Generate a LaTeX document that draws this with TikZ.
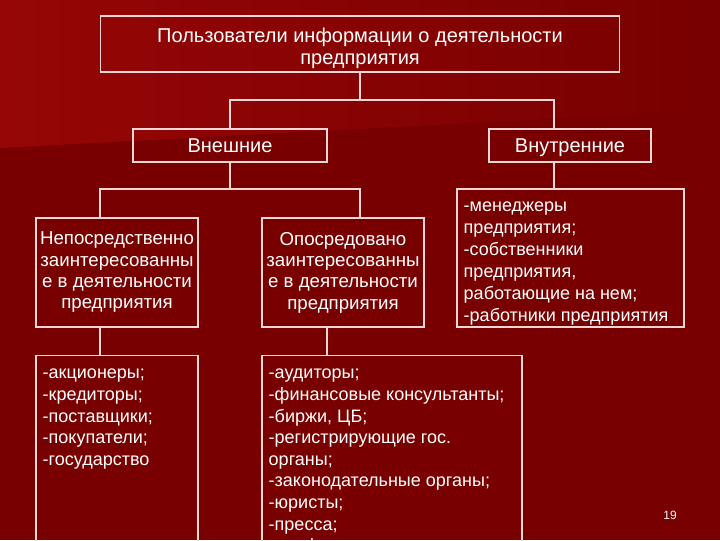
\documentclass[tikz,border=0pt]{standalone}
\usepackage{fontspec}
\setmainfont{Liberation Sans}
\definecolor{bglight}{RGB}{150,6,6}
\definecolor{bgdark}{RGB}{120,0,0}
\definecolor{linec}{RGB}{240,215,215}
\begin{document}
\begin{tikzpicture}[x=0.75pt,y=-0.75pt,
  box/.style={draw=linec, line width=0.8pt, text=white, inner sep=0pt, align=center,
              font=\fontsize{14}{16}\selectfont},
  head/.style={box, font=\fontsize{15}{16.5}\selectfont},
  conn/.style={draw=linec, line width=0.8pt},
  plain/.style={text=white, inner sep=0pt},
  listtxt/.style={text=white, inner sep=0pt, align=left, anchor=north west,
              font=\fontsize{13.5}{16.2}\selectfont}]
\useasboundingbox (0,0) rectangle (720,540);
\clip (0,0) rectangle (720,540);
\fill[bgdark] (0,0) rectangle (720,540);
\shade[left color=bglight, right color=bgdark] (0,0) -- (720,0) -- (720,110) -- (0,148) -- cycle;
% nodes
\node[box, minimum width=389.25pt, minimum height=42pt] (top) at (360,44) {};
\node[plain, align=center, font=\fontsize{15}{16.5}\selectfont] (toptxt) at ([yshift=-3pt]top.center)
  {Пользователи информации о деятельности\\предприятия};
\node[head, minimum width=145.5pt, minimum height=24.75pt, text height=10.5pt, text depth=0pt] (ext) at (230,145.5) {Внешние};
\node[head, minimum width=121.5pt, minimum height=24.75pt, text height=10.5pt, text depth=0pt] (int) at (570,145.5) {Внутренние};
\node[box, minimum width=121.5pt, minimum height=81.75pt] (dir) at (117,272.5)
  {\raisebox{0pt}{}Непосредственно\\заинтересованны\\е в деятельности\\предприятия};
\node[box, minimum width=121.5pt, minimum height=81.75pt] (ind) at (343,272.5)
  {Опосредовано\\заинтересованны\\е в деятельности\\предприятия};
\node[box, minimum width=170.25pt, minimum height=103.5pt] (intl) at (570.5,258) {};
\node[plain, align=left, anchor=west, font=\fontsize{13.5}{16.5}\selectfont] (intltxt)
  at ([xshift=5.25pt,yshift=-4pt]intl.west)
  {-менеджеры\\предприятия;\\-собственники\\предприятия,\\работающие на нем;\\-работники предприятия};
\node[box, minimum width=121.5pt, minimum height=200pt, anchor=north] (dlb) at (117,355) {};
\node[box, minimum width=195pt, minimum height=200pt, anchor=north] (ilb) at (392,355) {};
\node[listtxt] (dlt) at ([xshift=5.25pt,yshift=-10.5pt]dlb.north west)
  {-акционеры;\\-кредиторы;\\-поставщики;\\-покупатели;\\-государство};
\node[listtxt] (ilt) at ([xshift=5.25pt,yshift=-10.5pt]ilb.north west)
  {-аудиторы;\\-финансовые консультанты;\\-биржи, ЦБ;\\-регистрирующие гос.\\органы;\\-законодательные органы;\\-юристы;\\-пресса;\\-профсоюзы;};
\node[text=white, font=\fontsize{9}{10}\selectfont] (pg) at (670,515) {19};
% connectors
\coordinate (j1) at (360,100);
\coordinate (xint) at (554,0);
\coordinate (j2) at (230,189);
\coordinate (xdir) at (100,0);
\coordinate (xind) at (360,0);
\coordinate (xil) at (327,0);
\draw[conn] (top.south) -- (j1);
\draw[conn] (ext.north) |- (j1) -| (int.north -| xint);
\draw[conn] (ext.south) -- (j2);
\draw[conn] (dir.north -| xdir) |- (j2) -| (ind.north -| xind);
\draw[conn] (int.south -| xint) -- (intl.north -| xint);
\draw[conn] (dir.south -| xdir) -- (dlb.north -| xdir);
\draw[conn] (ind.south -| xil) -- (ilb.north -| xil);
\end{tikzpicture}
\end{document}
